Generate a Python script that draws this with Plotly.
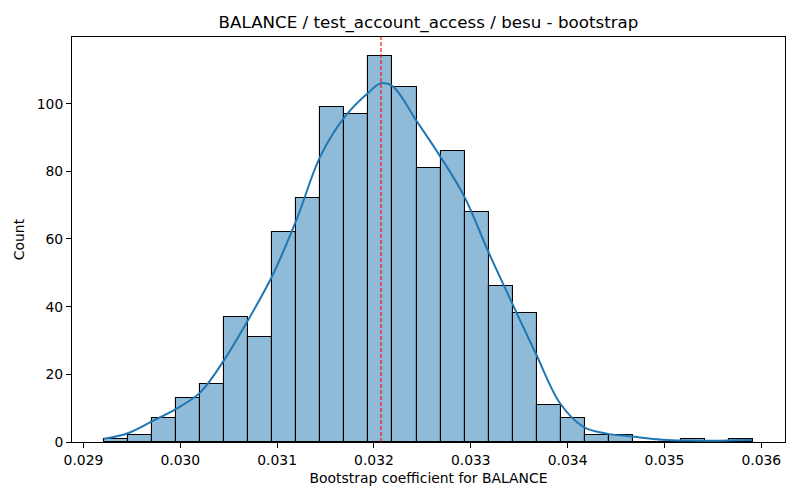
import numpy as np
import plotly.graph_objects as go

# bootstrap histogram (27 equal bins between the sample min and max)
sample_min = 0.029216
sample_max = 0.035910
counts = [1, 2, 7, 13, 17, 37, 31, 62, 72, 99, 97, 114, 105, 81, 86,
          68, 46, 38, 11, 7, 2, 2, 0, 0, 1, 0, 1]

# kde curve (scaled to counts)
kde_x = [0.029210, 0.029457, 0.029707, 0.029957, 0.030204, 0.030452, 0.030699,
         0.030946, 0.031200, 0.031447, 0.031704, 0.031944, 0.032072, 0.032191,
         0.032442, 0.032682, 0.032932, 0.033180, 0.033427, 0.033678, 0.033925,
         0.034168, 0.034415, 0.034666, 0.034978, 0.035256, 0.035513, 0.035719,
         0.035905]
kde_y = [0.95, 2.6, 6.1, 9.8, 14.6, 24.2, 36.0, 48.9, 65.7, 84.5, 96.3, 103.3,
         106.0, 105.2, 94.8, 84.5, 72.6, 56.3, 41.0, 25.7, 11.3, 4.4, 2.4, 1.6,
         0.7, 0.45, 0.4, 0.5, 0.6]

mean_coef = 0.032072

x_ticks = [0.029, 0.030, 0.031, 0.032, 0.033, 0.034, 0.035, 0.036]
y_ticks = [0, 20, 40, 60, 80, 100]

edges = np.linspace(sample_min, sample_max, len(counts) + 1)
centers = (edges[:-1] + edges[1:]) / 2
bw = edges[1] - edges[0]

fig = go.Figure()
fig.add_trace(go.Bar(
    x=centers, y=counts, width=bw,
    marker=dict(color="rgba(31,119,180,0.5)", line=dict(color="black", width=1.1)),
    showlegend=False, hoverinfo="x+y",
))
fig.add_trace(go.Scatter(
    x=kde_x, y=kde_y, mode="lines", line=dict(color="#1f77b4", width=2, shape="spline"),
    showlegend=False,
))
fig.add_shape(type="line", x0=mean_coef, x1=mean_coef, y0=0, y1=1, yref="paper",
              line=dict(color="red", width=1.1, dash="4px,2px"))

span = sample_max - sample_min
fig.update_layout(
    width=800, height=500,
    font=dict(family="DejaVu Sans", size=14, color="black"),
    plot_bgcolor="white", paper_bgcolor="white",
    margin=dict(l=72, r=15, t=37, b=58, autoexpand=False),
    bargap=0,
    title=dict(text="BALANCE / test_account_access / besu - bootstrap",
               x=0.5, xref="paper", xanchor="center", y=0.956, yanchor="middle",
               font=dict(size=16.7)),
    xaxis=dict(
        range=[sample_min - 0.05 * span, sample_max + 0.05 * span],
        tickvals=x_ticks, tickformat=".3f", tickfont=dict(size=13.9),
        showline=True, linecolor="black", linewidth=1, mirror=True, automargin=False,
        ticks="outside", ticklen=5, tickcolor="black", showgrid=False, zeroline=False,
        title=dict(text="Bootstrap coefficient for BALANCE", standoff=6, font=dict(size=13.9)),
    ),
    yaxis=dict(
        range=[0, max(counts) * 1.05],
        tickvals=y_ticks, tickfont=dict(size=13.9),
        showline=True, linecolor="black", linewidth=1, mirror=True, automargin=False,
        ticks="outside", ticklen=5, tickcolor="black", showgrid=False, zeroline=False,
        title=dict(text="Count", standoff=8, font=dict(size=13.9)),
    ),
)

fig.write_html("out.html", config={"displayModeBar": False},
               post_script="document.body.style.margin='0';")
